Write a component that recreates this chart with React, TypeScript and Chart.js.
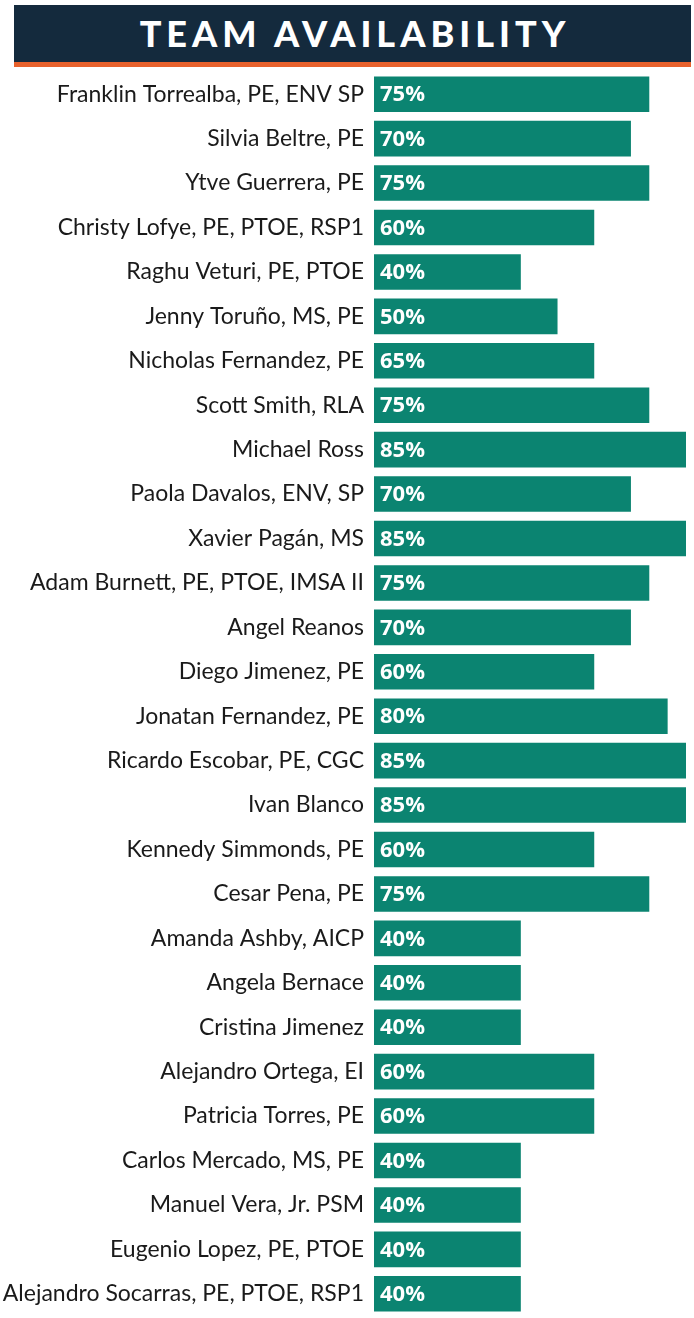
import React, { useEffect, useRef } from "react";
import { Chart, registerables } from "chart.js";

Chart.register(...registerables);

const TITLE = "TEAM AVAILABILITY";

const names: string[] = [
  "Franklin Torrealba, PE, ENV SP",
  "Silvia Beltre, PE",
  "Ytve Guerrera, PE",
  "Christy Lofye, PE, PTOE, RSP1",
  "Raghu Veturi, PE, PTOE",
  "Jenny Toruño, MS, PE",
  "Nicholas Fernandez, PE",
  "Scott Smith, RLA",
  "Michael Ross",
  "Paola Davalos, ENV, SP",
  "Xavier Pagán, MS",
  "Adam Burnett, PE, PTOE, IMSA II",
  "Angel Reanos",
  "Diego Jimenez, PE",
  "Jonatan Fernandez, PE",
  "Ricardo Escobar, PE, CGC",
  "Ivan Blanco",
  "Kennedy Simmonds, PE",
  "Cesar Pena, PE",
  "Amanda Ashby, AICP",
  "Angela Bernace",
  "Cristina Jimenez",
  "Alejandro Ortega, EI",
  "Patricia Torres, PE",
  "Carlos Mercado, MS, PE",
  "Manuel Vera, Jr. PSM",
  "Eugenio Lopez, PE, PTOE",
  "Alejandro Socarras, PE, PTOE, RSP1",
];

// bar lengths as drawn in the picture
const barValues: number[] = [
  75, 70, 75, 60, 40, 50, 60, 75, 85, 70, 85, 75, 70, 60, 80, 85, 85, 60, 75,
  40, 40, 40, 60, 60, 40, 40, 40, 40,
];

// labels printed on the bars
const valueLabels: string[] = [
  "75%", "70%", "75%", "60%", "40%", "50%", "65%", "75%", "85%", "70%", "85%",
  "75%", "70%", "60%", "80%", "85%", "85%", "60%", "75%", "40%", "40%", "40%",
  "60%", "60%", "40%", "40%", "40%", "40%",
];

const BAR_COLOR = "#0b8471";
const NAVY = "#142a3d";
const ORANGE = "#e8612c";

export default function App() {
  const ref = useRef<HTMLCanvasElement | null>(null);

  useEffect(() => {
    if (!ref.current) return;
    const labelPlugin = {
      id: "barLabels",
      afterDatasetsDraw(chart: any) {
        const ctx = chart.ctx;
        const meta = chart.getDatasetMeta(0);
        ctx.save();
        ctx.fillStyle = "#ffffff";
        ctx.font = "bold 22px 'Open Sans', sans-serif";
        ctx.textAlign = "left";
        ctx.textBaseline = "middle";
        meta.data.forEach((bar: any, i: number) => {
          ctx.fillText(valueLabels[i], bar.base + 6, bar.y + 1);
        });
        ctx.restore();
      },
    };
    const chart = new Chart(ref.current, {
      type: "bar",
      data: {
        labels: names,
        datasets: [
          {
            data: barValues,
            backgroundColor: BAR_COLOR,
            borderWidth: 0,
            categoryPercentage: 1,
            barPercentage: 0.8,
          },
        ],
      },
      options: {
        indexAxis: "y",
        animation: false,
        responsive: false,
        maintainAspectRatio: false,
        layout: { padding: { top: 5, bottom: 2, left: 0, right: 8 } },
        plugins: {
          legend: { display: false },
          tooltip: { enabled: false },
          title: { display: false },
        },
        scales: {
          x: {
            display: false,
            min: 0,
            max: 85,
          },
          y: {
            grid: { display: false, drawTicks: false },
            border: { display: false },
            ticks: {
              padding: 10,
              color: "#1a1a1a",
              font: { family: "Lato, sans-serif", size: 23 },
              autoSkip: false,
            },
            afterFit(scale: any) {
              scale.width = 374;
              scale.paddingTop = 0;
              scale.paddingBottom = 0;
            },
          },
        },
      },
      plugins: [labelPlugin],
    });
    return () => chart.destroy();
  }, []);

  return (
    <div
      style={{
        position: "absolute",
        left: 0,
        top: 0,
        width: 694,
        height: 1318,
        background: "#ffffff",
      }}
    >
      <div
        style={{
          position: "absolute",
          left: 14,
          top: 5,
          width: 672,
          height: 57,
          background: NAVY,
          borderBottom: `5px solid ${ORANGE}`,
          display: "flex",
          alignItems: "center",
          justifyContent: "center",
          color: "#ffffff",
          fontFamily: "Lato, sans-serif",
          fontWeight: 900,
          fontSize: 36,
          letterSpacing: 5,
          paddingLeft: 5,
          boxSizing: "content-box",
          lineHeight: "57px",
        }}
      >
        {TITLE}
      </div>
      <canvas
        ref={ref}
        width={694}
        height={1251}
        style={{ position: "absolute", left: 0, top: 67, width: 694, height: 1251 }}
      />
    </div>
  );
}
